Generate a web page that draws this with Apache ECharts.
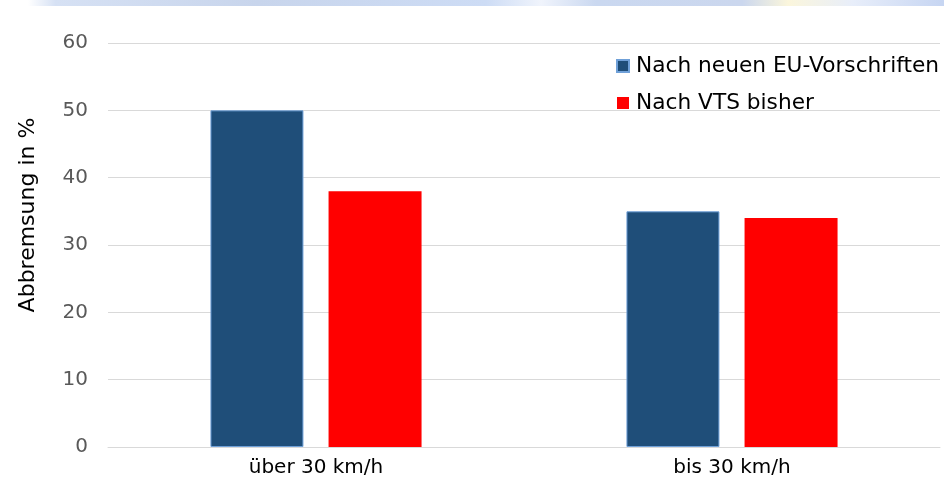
<!DOCTYPE html>
<html>
<head>
<meta charset="utf-8">
<script src="https://cdn.jsdelivr.net/npm/echarts@6/dist/echarts.min.js"></script>
<style>
html,body{margin:0;padding:0;background:#fff;}
#main{width:944px;height:482px;}
</style>
</head>
<body>
<div id="main"></div>
<script>
// Daten
var kategorien = ['über 30 km/h', 'bis 30 km/h'];
var eu_neu = [50, 35];
var vts_bisher = [38, 34];
var serienNamen = ['Nach neuen EU-Vorschriften', 'Nach VTS bisher'];
var achsenTitel = 'Abbremsung in %';

var myChart = echarts.init(document.getElementById('main'));
var option = {
	backgroundColor: '#fff',
	textStyle: { fontFamily: 'DejaVu Sans, sans-serif' },
	graphic: [{
		// Streifen oben
		type: 'rect',
		left: 28, top: 0,
		shape: { width: 916, height: 6 },
		style: {
			fill: new echarts.graphic.LinearGradient(0, 0, 1, 0, [
				{ offset: 0, color: '#ffffff' },
				{ offset: 0.03, color: '#d6e1f4' },
				{ offset: 0.25, color: '#c8d5ec' },
				{ offset: 0.5, color: '#cddcf5' },
				{ offset: 0.56, color: '#f0f4fc' },
				{ offset: 0.62, color: '#cad8f0' },
				{ offset: 0.78, color: '#cbd7ee' },
				{ offset: 0.83, color: '#fbf6dc' },
				{ offset: 0.9, color: '#e8eefa' },
				{ offset: 1, color: '#c6d5f2' }
			])
		},
		silent: true
	}, {
		type: 'text',
		x: 28, y: 215,
		rotation: Math.PI / 2,
		style: {
			text: achsenTitel,
			fontSize: 22,
			fontFamily: 'DejaVu Sans, sans-serif',
			fill: '#000',
			align: 'center',
			verticalAlign: 'middle'
		},
		silent: true
	}],
	legend: {
		orient: 'vertical',
		left: 611, top: 50,
		itemWidth: 12, itemHeight: 12,
		itemGap: 15,
		icon: 'rect',
		textStyle: { fontSize: 21.7, color: '#000', padding: [0, 0, 0, 2] },
		data: serienNamen
	},
	grid: { left: 108, right: 4, top: 43, bottom: 35 },
	xAxis: {
		type: 'category',
		data: kategorien,
		axisLine: { lineStyle: { color: '#d9d9d9' } },
		axisTick: { show: false },
		axisLabel: { fontSize: 20, color: '#000', margin: 11 }
	},
	yAxis: {
		type: 'value',
		min: 0, max: 60, interval: 10,
		axisLine: { show: false },
		axisTick: { show: false },
		axisLabel: { fontSize: 20, color: '#595959', margin: 20 },
		splitLine: { lineStyle: { color: '#d9d9d9' } }
	},
	series: [{
		name: serienNamen[0],
		type: 'bar',
		data: eu_neu,
		barWidth: 93,
		barGap: '27%',
		itemStyle: { color: '#1f4e79', borderColor: '#6fa0d8', borderWidth: 1 }
	}, {
		name: serienNamen[1],
		type: 'bar',
		data: vts_bisher,
		barWidth: 93,
		barGap: '27%',
		itemStyle: { color: '#ff0000' }
	}]
};
myChart.setOption(option);
</script>
</body>
</html>
